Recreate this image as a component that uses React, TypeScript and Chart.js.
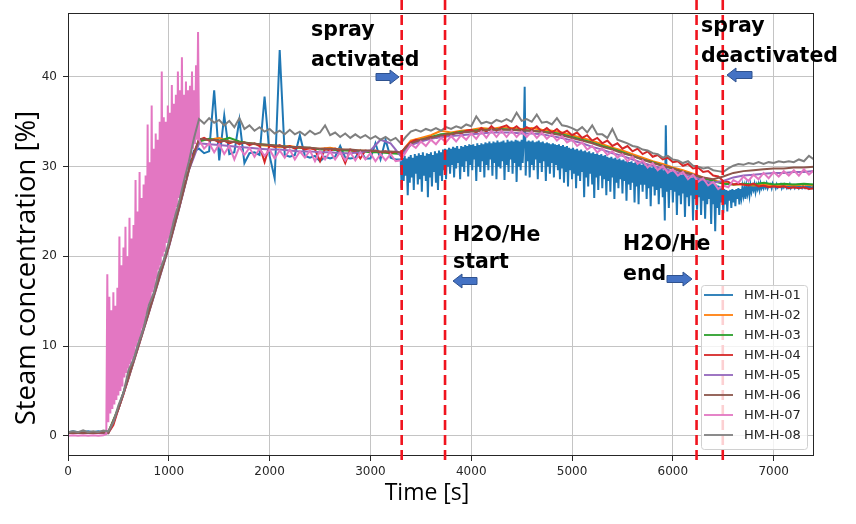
import React, { useEffect, useRef } from "react";
import { Chart, registerables } from "chart.js";

Chart.register(...registerables);

// ---------------- data ----------------
const SERIES_NAMES = ["HM-H-01", "HM-H-02", "HM-H-03", "HM-H-04", "HM-H-05", "HM-H-06", "HM-H-07", "HM-H-08"];
const SERIES_COLORS = ["#1f77b4", "#ff7f0e", "#2ca02c", "#d62728", "#9467bd", "#8c564b", "#e377c2", "#7f7f7f"];

const X_TICKS = [0, 1000, 2000, 3000, 4000, 5000, 6000, 7000];
const Y_TICKS = [0, 10, 20, 30, 40];
const EVENT_TIMES = [3310, 3740, 6235, 6495]; // spray on, H2O/He start, H2O/He end, spray off

// sampled every 50 s from 0 s
const HM01_BASE = [
  0.4, 0.5, 0.4, 0.4, 0.5, 0.4, 0.5, 0.4, 0.4, 1.4, 3.1, 4.8, 6.6, 8.5, 10.3, 12.1, 14.0, 15.8, 17.6, 19.5,
  21.3, 23.4, 25.5, 27.8, 30.0, 31.8, 32.0, 31.5, 31.7, 38.5, 30.7, 35.7, 31.4, 31.6, 35.2, 30.4, 31.5, 31.6, 31.3, 37.8,
  31.2, 28.7, 43.0, 31.3, 31.1, 31.3, 33.5, 31.2, 31.0, 31.2, 30.6, 31.1, 30.9, 31.1, 32.3, 31.0, 30.9, 31.0, 31.8, 30.9,
  30.9, 32.6, 30.8, 33.0, 31.0, 30.8,
];
// sampled every 10 s from 3300 s
const HM01_SPRAY = [
  30.8, 27.6, 31.0, 28.4, 31.2, 29.0, 30.9, 26.8, 31.1, 28.2,
  31.3, 28.8, 31.0, 27.4, 31.4, 29.2, 31.2, 28.0, 31.5, 28.6,
  31.3, 27.2, 31.6, 29.0, 31.2, 28.4, 31.5, 26.6, 31.4, 28.8,
  31.6, 27.8, 31.3, 29.4, 31.7, 28.2, 31.5, 27.4, 31.8, 29.0,
  31.6, 28.4, 31.9, 29.6, 32.0, 28.6, 31.9, 30.0, 32.1, 29.2,
  32.0, 30.2, 32.2, 28.8, 32.1, 29.8, 32.3, 30.4, 32.0, 28.6,
  32.3, 30.0, 32.2, 29.4, 32.4, 30.6, 32.3, 28.9, 32.5, 30.2,
  32.4, 29.6, 32.5, 30.8, 32.3, 28.4, 32.6, 30.0, 32.4, 29.4,
  32.6, 30.6, 32.5, 28.8, 32.7, 30.2, 32.6, 29.6, 32.8, 30.8,
  32.6, 29.0, 32.8, 30.4, 32.7, 28.6, 32.9, 30.0, 32.7, 29.8,
  32.8, 30.6, 32.9, 28.5, 32.7, 30.2, 33.0, 29.4, 32.8, 30.8,
  32.9, 29.2, 32.8, 30.4, 33.0, 28.3, 32.9, 30.0, 32.8, 29.6,
  33.0, 30.4, 32.9, 38.9, 29.0, 32.8, 30.6, 32.9, 28.8, 32.8,
  30.2, 32.9, 29.6, 32.7, 30.8, 32.8, 28.6, 32.9, 30.4, 32.7,
  29.4, 32.8, 30.6, 32.6, 28.4, 32.7, 30.0, 32.6, 29.2, 32.5,
  30.4, 32.6, 28.8, 32.5, 30.2, 32.4, 29.6, 32.5, 28.6, 32.3,
  29.8, 32.4, 28.2, 32.2, 29.4, 32.3, 27.8, 32.1, 29.6, 32.0,
  28.6, 32.1, 29.2, 31.9, 27.6, 32.0, 29.0, 31.8, 28.4, 31.9,
  29.4, 31.7, 26.6, 31.8, 28.8, 31.6, 27.8, 31.7, 29.2, 31.5,
  28.0, 31.6, 26.5, 31.4, 28.8, 31.5, 27.4, 31.3, 29.0, 31.4,
  27.6, 31.2, 28.6, 31.3, 26.8, 31.1, 28.4, 31.0, 27.2, 31.1,
  28.8, 30.9, 26.4, 31.0, 28.2, 30.8, 27.6, 30.9, 28.6, 30.7,
  27.0, 30.8, 28.4, 30.6, 26.2, 30.7, 28.0, 30.5, 27.4, 30.6,
  28.2, 30.4, 26.0, 30.5, 27.8, 30.3, 25.8, 30.4, 28.0, 30.2,
  27.2, 30.3, 28.0, 30.1, 26.4, 30.2, 27.6, 30.0, 25.6, 29.9,
  27.8, 30.0, 26.8, 29.8, 27.4, 29.9, 25.8, 29.7, 27.6, 29.8,
  26.6, 29.6, 24.0, 34.6, 27.2, 29.5, 25.4, 29.6, 27.4, 29.4,
  26.0, 29.5, 27.2, 29.3, 24.6, 29.4, 26.8, 29.2, 25.8, 29.1,
  27.0, 29.2, 24.4, 29.0, 26.6, 28.9, 25.6, 29.0, 26.8, 28.8,
  24.0, 28.9, 26.4, 28.7, 25.2, 28.8, 26.6, 28.6, 24.6, 28.5,
  26.2, 28.6, 24.2, 28.4, 25.8, 28.3, 26.4, 28.4, 23.6, 28.2,
  25.8, 28.1, 22.8, 28.0, 25.4, 27.9, 24.6, 27.8, 26.0, 27.6,
  24.8, 27.5, 25.8, 27.4, 25.0, 27.3, 26.2, 27.4, 25.4, 27.5,
  26.0, 27.4, 25.6, 27.5, 26.4, 27.6, 25.8, 27.5, 26.6, 27.7,
  26.8, 27.6, 26.4, 27.8, 27.0, 27.7, 26.8, 27.9, 27.2, 27.8,
  27.4, 28.0, 27.2, 27.9, 27.5, 28.0, 27.4, 28.1, 27.6, 27.9,
  27.6, 28.0, 27.7, 28.1, 27.6, 27.9, 27.8, 28.0, 27.6, 28.1,
  27.8, 27.9, 27.6, 28.0, 27.7, 27.9, 27.8, 28.0, 27.6, 27.9,
  27.7, 28.0, 27.8, 27.6, 27.9, 27.7, 28.0, 27.6, 27.8, 27.7,
  27.9, 27.6, 27.8, 27.7, 27.9, 27.6, 27.8, 27.7, 27.6, 27.9,
  27.7, 27.6, 27.8, 27.7, 27.9, 27.6, 27.8, 27.7, 27.6, 27.8,
  27.7,
];

// sampled every 100 s from 0 s
const HM02 = [
  0.3, 0.3, 0.4, 0.3, 0.4, 3.0, 6.4, 10.0, 13.7, 17.4,
  21.1, 25.3, 29.7, 33.0, 33.0, 33.2, 32.8, 32.7, 32.6, 32.4,
  32.3, 32.2, 32.3, 32.1, 32.0, 32.0, 32.1, 31.9, 31.8, 31.8,
  31.7, 31.6, 31.6, 31.5, 32.9, 33.2, 33.5, 34.0, 33.8, 34.0,
  34.1, 34.3, 34.2, 34.4, 34.3, 34.2, 34.3, 34.1, 34.0, 33.8,
  33.5, 33.2, 32.9, 32.5, 32.1, 31.8, 31.4, 31.0, 30.6, 30.3,
  29.9, 29.6, 29.2, 28.8, 28.5, 28.2, 28.0, 28.0, 27.9, 28.0,
  27.9, 28.0, 27.9, 28.0, 27.9,
];
const HM03 = [
  0.3, 0.4, 0.3, 0.3, 0.4, 3.1, 6.5, 10.1, 13.8, 17.5,
  21.2, 25.4, 29.8, 32.8, 33.1, 32.9, 33.2, 32.8, 32.6, 32.5,
  32.4, 32.3, 32.2, 32.1, 32.1, 31.9, 31.9, 31.8, 31.8, 31.7,
  31.6, 31.6, 31.5, 31.4, 32.6, 33.0, 33.3, 33.6, 33.7, 33.9,
  34.0, 34.1, 34.1, 34.2, 34.1, 34.1, 34.0, 33.9, 33.8, 33.6,
  33.3, 33.0, 32.7, 32.3, 32.0, 31.6, 31.2, 30.8, 30.5, 30.1,
  29.8, 29.4, 29.1, 28.7, 28.4, 28.1, 28.0, 28.1, 28.0, 28.2,
  28.0, 28.1, 28.0, 28.1, 28.0,
];
// sampled every 50 s from 0 s
const HM04 = [
  0.3, 0.3, 0.4, 0.3, 0.3, 0.4, 0.3, 0.3, 0.3, 1.2, 3.0, 4.6, 6.5, 8.4, 10.1, 12.0, 13.8, 15.7, 17.5, 19.4,
  21.2, 23.3, 25.4, 27.6, 29.8, 31.6, 33.0, 33.2, 32.9, 33.0, 32.7, 32.9, 32.6, 32.8, 32.5, 32.7, 32.4, 32.6, 32.3, 30.5,
  32.4, 32.2, 32.4, 32.1, 32.3, 32.0, 32.2, 31.9, 32.1, 31.9, 30.6, 32.0, 31.8, 32.0, 31.7, 30.4, 31.9, 31.7, 30.9, 31.8,
  31.7, 31.8, 31.6, 31.7, 31.5, 31.7, 31.4, 32.2, 32.7, 33.0, 32.9, 33.1, 33.3, 33.2, 33.4, 33.6, 33.5, 33.8, 33.7, 34.0,
  34.1, 33.8, 34.3, 33.9, 34.5, 34.0, 34.4, 34.6, 34.1, 34.5, 34.0, 34.4, 34.1, 34.5, 33.9, 34.3, 33.8, 34.2, 33.7, 34.0,
  33.5, 33.8, 33.2, 33.5, 32.9, 33.2, 32.6, 32.9, 32.3, 32.6, 32.0, 32.3, 31.7, 32.0, 31.4, 31.7, 31.1, 31.3, 30.8, 31.0,
  30.5, 30.6, 30.1, 30.3, 29.8, 29.9, 29.4, 29.5, 29.0, 28.9, 28.4, 28.3, 28.0, 28.1, 28.0, 27.9, 28.1, 27.8, 27.9, 27.7,
  27.8, 27.7, 27.8, 27.6, 27.7, 27.6, 27.7, 27.5, 27.6,
];
// sampled every 100 s from 0 s
const HM05 = [
  0.4, 0.3, 0.4, 0.4, 0.3, 3.0, 6.4, 10.0, 13.6, 17.3,
  21.0, 25.2, 29.6, 32.6, 32.5, 32.4, 32.3, 32.2, 32.1, 32.0,
  31.9, 31.9, 31.8, 31.7, 31.7, 31.6, 31.6, 31.5, 31.5, 31.6,
  31.8, 33.0, 32.6, 31.2, 32.4, 32.8, 33.1, 33.3, 33.4, 33.5,
  33.6, 33.7, 33.8, 33.8, 33.8, 33.7, 33.7, 33.6, 33.4, 33.2,
  32.9, 32.6, 32.2, 31.9, 31.5, 31.2, 30.8, 30.4, 30.1, 29.8,
  29.5, 29.2, 28.9, 28.5, 28.2, 28.4, 28.8, 29.0, 29.1, 29.2,
  29.3, 29.3, 29.4, 29.4, 29.5,
];
const HM06 = [
  0.3, 0.3, 0.3, 0.4, 0.3, 3.0, 6.5, 10.1, 13.7, 17.4,
  21.1, 25.3, 29.7, 33.1, 33.0, 32.9, 32.8, 32.7, 32.6, 32.5,
  32.4, 32.3, 32.2, 32.2, 32.1, 32.0, 32.0, 31.9, 31.9, 31.8,
  31.8, 31.7, 31.7, 31.6, 32.6, 33.0, 33.2, 33.5, 33.6, 33.8,
  33.9, 34.0, 34.1, 34.1, 34.1, 34.0, 34.0, 33.9, 33.7, 33.5,
  33.2, 32.9, 32.6, 32.2, 31.9, 31.5, 31.2, 30.8, 30.4, 30.1,
  29.8, 29.4, 29.1, 28.8, 28.6, 28.9, 29.3, 29.5, 29.6, 29.7,
  29.8, 29.8, 29.9, 29.9, 30.0,
];
// HM-H-07: every 50 s from 0 s, every 10 s from 380 s (rise), every 50 s from 1300 s
const HM07_START = [0.0, 0.05, 0.0, 0.05, 0.0, 0.05, 0.0, 0.05];
const HM07_RISE = [
  0.2, 18.0, 1.5, 15.5, 2.5, 14.0, 3.0, 16.0, 3.5, 14.5,
  4.0, 16.5, 4.5, 22.2, 5.0, 19.0, 5.5, 21.0, 6.5, 23.3,
  7.0, 20.0, 7.5, 24.3, 8.0, 22.0, 8.5, 23.5, 9.0, 28.5,
  10.0, 25.0, 10.5, 29.4, 11.0, 26.5, 12.0, 28.0, 12.5, 29.0,
  13.5, 34.7, 14.5, 30.5, 15.0, 36.8, 16.0, 32.0, 16.5, 33.7,
  17.5, 33.0, 18.5, 35.0, 19.0, 40.6, 20.0, 35.5, 20.5, 35.0,
  21.5, 36.8, 22.0, 36.0, 22.5, 39.1, 23.5, 37.0, 24.5, 38.0,
  25.5, 40.6, 26.5, 38.5, 27.0, 42.2, 28.0, 38.0, 28.5, 39.5,
  29.5, 38.5, 30.5, 39.0, 31.0, 40.6, 32.0, 38.5, 32.5, 41.3,
  33.0, 45.0,
];
const HM07_MAIN = [
  33.0, 32.0, 32.6, 31.6, 32.5, 31.4, 32.3, 30.8, 32.2, 31.3, 32.1, 31.1, 32.0, 31.2,
  31.9, 30.9, 31.8, 31.0, 31.9, 30.8, 31.7, 31.0, 31.8, 30.6, 31.7, 30.8, 31.7, 30.8, 31.6, 30.7, 31.6, 30.7, 31.6, 30.8,
  31.5, 30.6, 31.4, 30.7, 31.4, 30.6, 30.7, 31.6, 32.5, 32.1, 32.8, 32.3, 33.0, 32.5, 33.2, 32.7, 33.4, 32.8, 33.5, 33.0,
  33.7, 33.1, 33.9, 33.2, 34.0, 33.3, 34.0, 33.3, 34.0, 33.3, 33.9, 33.3, 33.9, 33.2, 33.8, 33.1, 33.6, 32.9, 33.4, 32.7,
  33.0, 32.3, 32.7, 31.9, 32.3, 31.6, 32.0, 31.3, 31.7, 31.0, 31.4, 30.6, 31.1, 30.3, 30.7, 29.9, 30.4, 29.6, 30.1, 29.3,
  29.7, 29.0, 29.4, 28.6, 29.1, 28.3, 28.7, 27.9, 28.3, 27.5, 27.9, 27.7, 28.5, 28.2, 28.9, 28.4, 29.1, 28.6, 29.3, 28.7,
  29.4, 28.9, 29.5, 29.0, 29.6, 29.0, 29.7, 29.1, 29.6,
];
// sampled every 50 s from 0 s
const HM08 = [
  0.4, 0.5, 0.4, 0.6, 0.4, 0.5, 0.4, 0.6, 0.5, 1.5, 3.4, 4.8, 7.3, 8.5, 10.4, 12.0, 14.5, 15.9, 18.2, 19.6,
  21.6, 24.0, 26.0, 28.4, 30.6, 33.2, 35.3, 34.8, 35.4, 34.9, 35.2, 34.6, 35.1, 34.4, 35.4, 34.2, 34.6, 34.0, 34.4, 33.9,
  34.2, 33.7, 34.0, 33.6, 34.1, 33.6, 33.9, 33.5, 34.0, 33.6, 33.8, 34.6, 33.5, 33.8, 33.3, 33.7, 33.2, 33.6, 33.2, 33.5,
  33.1, 33.4, 33.0, 33.3, 32.9, 33.2, 32.6, 33.3, 33.9, 34.1, 33.9, 34.2, 34.0, 34.3, 34.0, 34.4, 34.2, 34.5, 34.3, 34.7,
  34.5, 35.6, 34.8, 35.0, 34.8, 35.2, 35.0, 35.3, 35.0, 36.0, 35.1, 35.3, 35.0, 35.8, 34.9, 35.0, 34.7, 35.4, 34.6, 34.5,
  34.3, 34.0, 34.4, 33.8, 34.6, 33.6, 33.6, 33.2, 34.2, 33.0, 32.8, 32.6, 32.3, 32.2, 31.9, 31.8, 31.5, 31.4, 31.0, 31.2,
  30.8, 30.7, 30.4, 30.6, 30.1, 30.0, 29.8, 29.9, 29.6, 29.5, 29.4, 29.8, 30.1, 30.3, 30.2, 30.4, 30.3, 30.5, 30.3, 30.5,
  30.4, 30.6, 30.5, 30.6, 30.5, 30.8, 30.6, 31.2, 30.8,
];

function seg(t0: number, dt: number, vals: number[]) {
  return vals.map((v, i) => ({ x: t0 + i * dt, y: v }));
}

const SERIES_POINTS = [
  [...seg(0, 50, HM01_BASE), ...seg(3300, 10, HM01_SPRAY)],
  seg(0, 100, HM02),
  seg(0, 100, HM03),
  seg(0, 50, HM04),
  seg(0, 100, HM05),
  seg(0, 100, HM06),
  [...seg(0, 50, HM07_START), ...seg(380, 10, HM07_RISE), ...seg(1300, 50, HM07_MAIN)],
  seg(0, 50, HM08),
];

// ---------------- overlay ----------------
function drawArrow(ctx: CanvasRenderingContext2D, tail: number, tip: number, cy: number) {
  const dir = Math.sign(tip - tail);
  const hb = tip - dir * 9;
  ctx.beginPath();
  ctx.moveTo(tail, cy - 3.5);
  ctx.lineTo(hb, cy - 3.5);
  ctx.lineTo(hb, cy - 7);
  ctx.lineTo(tip, cy);
  ctx.lineTo(hb, cy + 7);
  ctx.lineTo(hb, cy + 3.5);
  ctx.lineTo(tail, cy + 3.5);
  ctx.closePath();
  ctx.fillStyle = "#4472c4";
  ctx.fill();
  ctx.strokeStyle = "#2f528f";
  ctx.lineWidth = 1;
  ctx.stroke();
}

const overlayPlugin = {
  id: "overlay",
  afterDatasetsDraw(chart: any) {
    const { ctx, chartArea: a, scales } = chart;
    const xs = scales.x;
    ctx.save();
    // frame
    ctx.strokeStyle = "#262626";
    ctx.lineWidth = 1;
    ctx.strokeRect(Math.round(a.left) + 0.5, Math.round(a.top) + 0.5, Math.round(a.right - a.left) - 1, Math.round(a.bottom - a.top) - 1);
    // event lines
    ctx.strokeStyle = "#f0141e";
    ctx.lineWidth = 2.6;
    ctx.setLineDash([10, 5]);
    for (const t of EVENT_TIMES) {
      const px = xs.getPixelForValue(t);
      ctx.beginPath();
      ctx.moveTo(px, 0);
      ctx.lineTo(px, a.bottom + 8);
      ctx.stroke();
    }
    ctx.setLineDash([]);
    // legend
    const lx = 701, ly = 285, lw = 106, lh = 164;
    ctx.beginPath();
    (ctx as any).roundRect(lx + 0.5, ly + 0.5, lw, lh, 3);
    ctx.fillStyle = "rgba(255,255,255,0.8)";
    ctx.fill();
    ctx.strokeStyle = "#d0d0d0";
    ctx.lineWidth = 1;
    ctx.stroke();
    ctx.font = '13px "DejaVu Sans"';
    ctx.textBaseline = "middle";
    ctx.textAlign = "left";
    SERIES_NAMES.forEach((name, i) => {
      const cy = 295 + i * 20;
      ctx.strokeStyle = SERIES_COLORS[i];
      ctx.lineWidth = 1.8;
      ctx.beginPath();
      ctx.moveTo(704, cy);
      ctx.lineTo(733, cy);
      ctx.stroke();
      ctx.fillStyle = "#262626";
      ctx.fillText(name, 744, cy + 1);
    });
    // annotations
    ctx.fillStyle = "#000";
    ctx.font = 'bold 20.5px "DejaVu Sans"';
    ctx.textBaseline = "alphabetic";
    ctx.fillText("spray", 311, 36);
    ctx.fillText("activated", 311, 66);
    ctx.fillText("spray", 701, 32);
    ctx.fillText("deactivated", 701, 62);
    ctx.fillText("H2O/He", 453, 241);
    ctx.fillText("start", 453, 268);
    ctx.fillText("H2O/He", 623, 250);
    ctx.fillText("end", 623, 280);
    drawArrow(ctx, 376, 399, 77);
    drawArrow(ctx, 752, 727, 75);
    drawArrow(ctx, 477, 453, 281);
    drawArrow(ctx, 667, 692, 279);
    // axis titles
    ctx.fillStyle = "#000";
    ctx.font = '23px "Open Sans"';
    ctx.textAlign = "center";
    ctx.fillText("Time [s]", 427, 500);
    ctx.save();
    ctx.translate(35, 268);
    ctx.rotate(-Math.PI / 2);
    ctx.font = '27.5px "Open Sans"';
    ctx.fillText("Steam concentration [%]", 0, 0);
    ctx.restore();
    ctx.restore();
  },
};

export default function App() {
  const ref = useRef<HTMLCanvasElement>(null);
  useEffect(() => {
    if (!ref.current) return;
    const chart = new Chart(ref.current, {
      type: "line",
      data: {
        datasets: SERIES_NAMES.map((name, i) => ({
          label: name,
          data: SERIES_POINTS[i],
          borderColor: SERIES_COLORS[i],
          backgroundColor: SERIES_COLORS[i],
          borderWidth: 2,
          pointRadius: 0,
          tension: 0,
          fill: false,
          order: SERIES_NAMES.length - 1 - i,
        })),
      },
      options: {
        animation: false,
        responsive: false,
        events: [],
        layout: { padding: { left: 0, top: 13, right: 42, bottom: 0 } },
        plugins: { legend: { display: false }, tooltip: { enabled: false } },
        scales: {
          x: {
            type: "linear",
            min: 0,
            max: 7400,
            afterFit: (s: any) => { s.height = 68; },
            afterBuildTicks: (s: any) => { s.ticks = X_TICKS.map((v) => ({ value: v })); },
            ticks: {
              font: { family: "DejaVu Sans", size: 12 },
              color: "#262626",
              padding: 4,
              maxRotation: 0,
              callback: (v: any) => String(v),
            },
            grid: { color: "#c4c4c4", lineWidth: 1, tickLength: 5, tickColor: "#262626" },
            border: { display: false },
          },
          y: {
            type: "linear",
            min: -2.25,
            max: 47.1,
            afterFit: (s: any) => { s.width = 68; },
            afterBuildTicks: (s: any) => { s.ticks = Y_TICKS.map((v) => ({ value: v })); },
            ticks: {
              font: { family: "DejaVu Sans", size: 12 },
              color: "#262626",
              padding: 6,
              callback: (v: any) => String(v),
            },
            grid: { color: "#c4c4c4", lineWidth: 1, tickLength: 5, tickColor: "#262626" },
            border: { display: false },
          },
        },
      },
      plugins: [overlayPlugin],
    });
    return () => chart.destroy();
  }, []);
  return (
    <div style={{ position: "fixed", left: 0, top: 0, width: 856, height: 524, background: "#fff" }}>
      <canvas ref={ref} width={856} height={524} />
    </div>
  );
}
